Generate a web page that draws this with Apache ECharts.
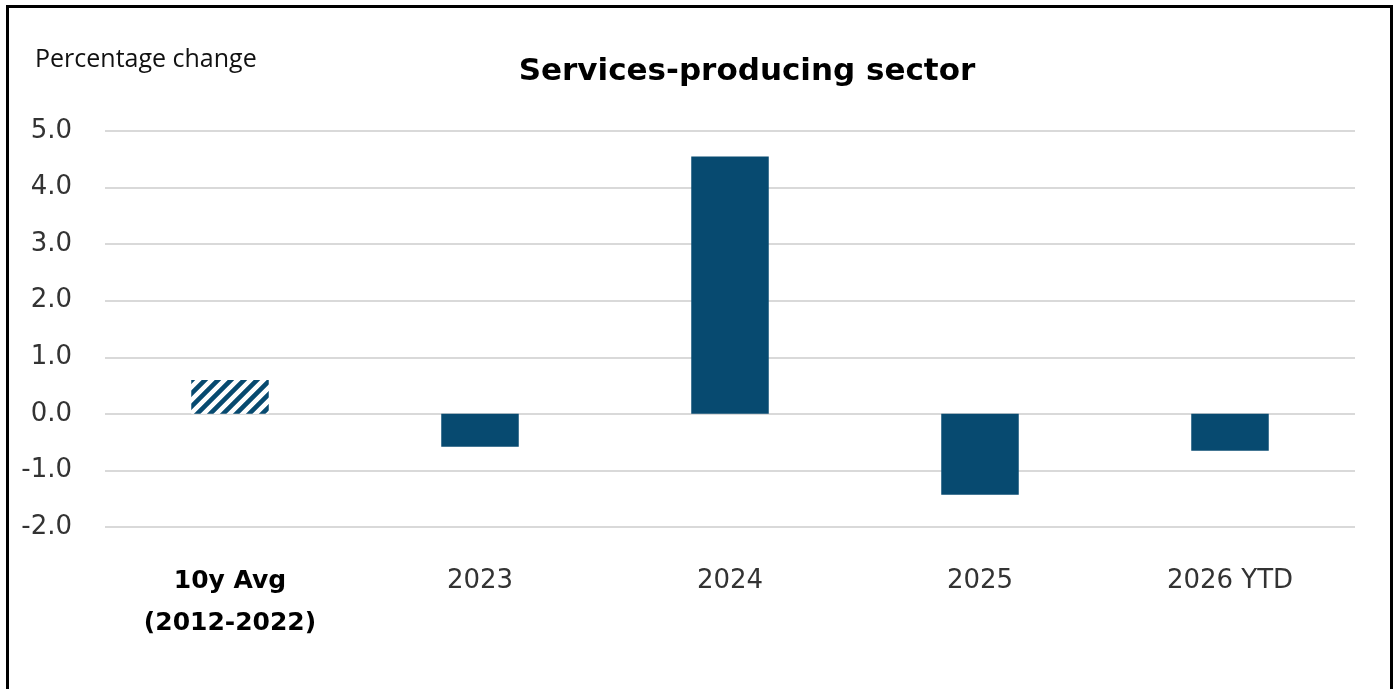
<!DOCTYPE html>
<html>
<head>
<meta charset="utf-8">
<script src="https://cdn.jsdelivr.net/npm/echarts@6/dist/echarts.min.js"></script>
<style>
html,body{margin:0;padding:0;background:#fff;}
#chart{width:1395px;height:689px;}
</style>
</head>
<body>
<div id="chart"></div>
<script>
const categories = ['10y Avg\n(2012-2022)', '2023', '2024', '2025', '2026 YTD'];
const values = [0.60, -0.58, 4.55, -1.43, -0.65];
const yTicks = [-2, -1, 0, 1, 2, 3, 4, 5];
const titleText = 'Services-producing sector';
const unitText = 'Percentage change';

const barColor = '#074a70';

// hatch pattern for the 10-year average bar
const tile = document.createElement('canvas');
const s = 13;
tile.width = s; tile.height = s;
const ctx = tile.getContext('2d');
ctx.fillStyle = '#ffffff';
ctx.fillRect(0, 0, s, s);
ctx.strokeStyle = barColor;
ctx.lineWidth = 4.6;
ctx.lineCap = 'square';
ctx.beginPath();
ctx.moveTo(-s, 2 * s); ctx.lineTo(2 * s, -s);
ctx.moveTo(-s, s); ctx.lineTo(s, -s);
ctx.moveTo(0, 2 * s); ctx.lineTo(2 * s, 0);
ctx.stroke();

const chart = echarts.init(document.getElementById('chart'));
const seriesData = values.map((v, i) => i === 0
  ? { value: v, itemStyle: { color: { image: tile, repeat: 'repeat' } } }
  : { value: v });

chart.setOption({
  animation: false,
  backgroundColor: '#ffffff',
  title: {
    text: titleText,
    left: 742, top: 51, textAlign: 'center',
    textStyle: { fontFamily: 'DejaVu Sans', fontWeight: 'bold', fontSize: 31, color: '#000' }
  },
  graphic: [
    { type: 'text', left: 35, top: 47,
      style: { text: unitText, font: '25px "Open Sans"', fill: '#111' } },
    { type: 'polyline', silent: true,
      shape: { points: [[7.5, 700], [7.5, 6.5], [1391.5, 6.5], [1391.5, 700]] },
      style: { stroke: '#000', lineWidth: 3, fill: null } }
  ],
  grid: { left: 105, right: 40, top: 131, bottom: 162 },
  xAxis: {
    type: 'category',
    data: categories,
    axisLine: { show: false, onZero: false },
    axisTick: { show: false },
    axisLabel: {
      interval: 0,
      hideOverlap: false,
      margin: 33,
      fontFamily: 'DejaVu Sans',
      fontSize: 26,
      color: '#333',
      lineHeight: 42,
      formatter: function (val, idx) {
        if (idx === 0) {
          return val.split('\n').map(t => '{b|' + t + '}').join('\n');
        }
        return val;
      },
      rich: {
        b: { fontFamily: 'DejaVu Sans', fontWeight: 'bold', fontSize: 25, color: '#000', lineHeight: 42 }
      }
    }
  },
  yAxis: {
    type: 'value',
    min: yTicks[0], max: yTicks[yTicks.length - 1], interval: 1,
    axisLine: { show: false },
    axisTick: { show: false },
    splitLine: { lineStyle: { color: '#d9d9d9', width: 2 } },
    axisLabel: {
      margin: 33,
      fontFamily: 'DejaVu Sans',
      fontSize: 26,
      color: '#333',
      formatter: v => v.toFixed(1)
    }
  },
  series: [{
    type: 'bar',
    data: seriesData,
    barWidth: '31%',
    itemStyle: { color: barColor }
  }]
});
</script>
</body>
</html>
